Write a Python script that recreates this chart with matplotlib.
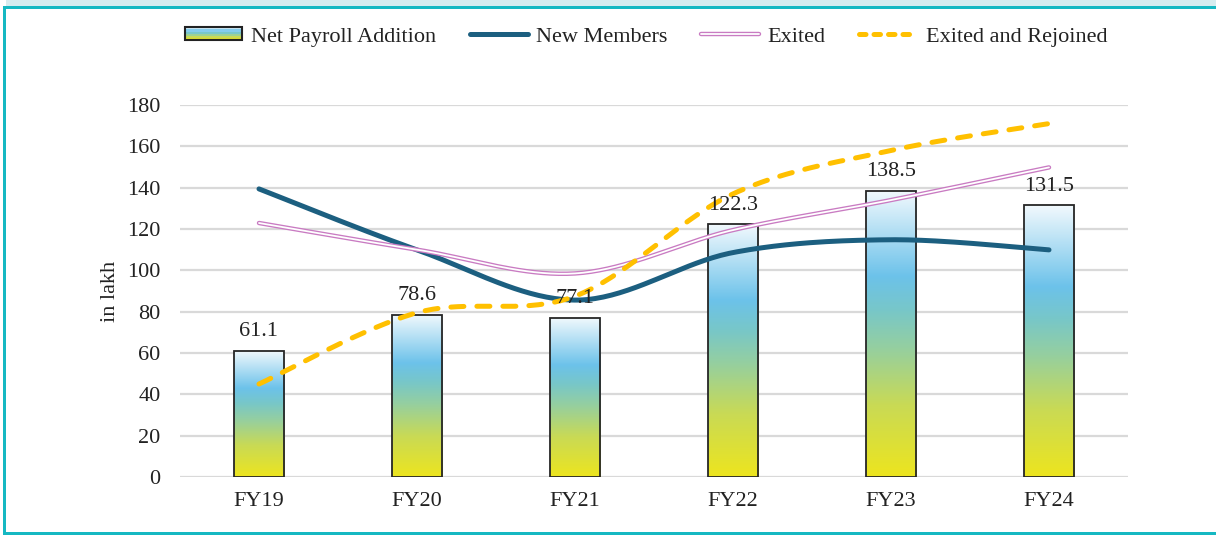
import numpy as np
import matplotlib
matplotlib.use("Agg")
import matplotlib.pyplot as plt
from matplotlib.patches import Rectangle
from matplotlib.lines import Line2D
from matplotlib.colors import LinearSegmentedColormap
from matplotlib.legend_handler import HandlerBase

plt.rcParams['font.family'] = ['Liberation Serif', 'DejaVu Serif']

categories = ["FY19", "FY20", "FY21", "FY22", "FY23", "FY24"]
net_payroll = [61.1, 78.6, 77.1, 122.3, 138.5, 131.5]
new_members = [139.4, 109.9, 85.6, 108.6, 114.8, 109.9]
exited = [122.9, 110.0, 98.5, 119.5, 134.0, 149.8]
exited_rejoined = [45.0, 79.5, 87.5, 137.0, 158.0, 171.0]
y_ticks = [0, 20, 40, 60, 80, 100, 120, 140, 160, 180]

grad_cmap = LinearSegmentedColormap.from_list(
    "bar", [(0.0, "#EDE51E"), (0.25, "#C9DA55"), (0.45, "#95CFA0"),
            (0.58, "#78C7C8"), (0.70, "#6CC2EA"), (1.0, "#F2F9FD")])


def smooth(xs, ys, n=40):
    """Excel-style smoothed line (Catmull-Rom as cubic Bezier)."""
    P = np.column_stack([xs, ys]).astype(float)
    out = [P[0]]
    for i in range(len(P) - 1):
        p0 = P[i - 1] if i > 0 else P[i]
        p1 = P[i]
        p2 = P[i + 1]
        p3 = P[i + 2] if i + 2 < len(P) else P[i + 1]
        c1 = p1 + (p2 - p0) / 6.0
        c2 = p2 - (p3 - p1) / 6.0
        t = np.linspace(0, 1, n)[1:, None]
        seg = ((1 - t) ** 3) * p1 + 3 * ((1 - t) ** 2) * t * c1 + 3 * (1 - t) * t ** 2 * c2 + t ** 3 * p2
        out.extend(seg)
    out = np.array(out)
    return out[:, 0], out[:, 1]


fig = plt.figure(figsize=(12.16, 5.35), dpi=100)
fig.patch.set_facecolor("white")

# frame decoration
fig.add_artist(Rectangle((6 / 1216, 1 - 6 / 535), 1, 6 / 535, transform=fig.transFigure,
                         facecolor="#D6ECEF", edgecolor="none"))
fig.add_artist(Rectangle((3 / 1216, 1 - 8.5 / 535), 1, 2.5 / 535, transform=fig.transFigure,
                         facecolor="#16B8C2", edgecolor="none"))
fig.add_artist(Rectangle((3 / 1216, 0), 2.5 / 1216, 1 - 6 / 535, transform=fig.transFigure,
                         facecolor="#16B8C2", edgecolor="none"))
fig.add_artist(Rectangle((3 / 1216, 0), 1, 3 / 535, transform=fig.transFigure,
                         facecolor="#16B8C2", edgecolor="none"))

ax = fig.add_axes([180 / 1216, 1 - 477 / 535, 948 / 1216, 372 / 535])
x = np.arange(len(categories))
bw = 0.32
FS = 16

grad = np.linspace(0, 1, 256)[:, None]
for xi, v in zip(x, net_payroll):
    rect = Rectangle((xi - bw / 2, 0), bw, v, facecolor="none", edgecolor="#262626",
                     linewidth=1.3, zorder=3)
    ax.add_patch(rect)
    im = ax.imshow(grad, cmap=grad_cmap, origin="lower", aspect="auto",
                   extent=[xi - bw / 2, xi + bw / 2, 0, v], zorder=2)
    im.set_clip_path(rect)
    ax.text(xi, v + 4.5, f"{v}", ha="center", va="bottom", fontsize=FS, color="#222222", zorder=6)

sx, sy = smooth(x, new_members)
ax.plot(sx, sy, color="#1C5F80", linewidth=3.6, solid_capstyle="round", zorder=5)
sx, sy = smooth(x, exited)
ax.plot(sx, sy, color="#C97BC2", linewidth=3.2, solid_capstyle="round", zorder=5)
ax.plot(sx, sy, color="white", linewidth=1.3, solid_capstyle="round", zorder=5)
sx, sy = smooth(x, exited_rejoined)
ax.plot(sx, sy, color="#FFC000", linewidth=3.6, linestyle=(0, (2.6, 2.6)),
        dash_capstyle="round", zorder=5)

ax.set_xlim(-0.5, len(categories) - 0.5)
ax.set_ylim(0, 180)
ax.set_yticks(y_ticks)
ax.set_xticks(x)
ax.set_xticklabels(categories)
ax.tick_params(axis="both", length=0, labelsize=FS, colors="#222222")
ax.tick_params(axis="y", pad=14)
ax.tick_params(axis="x", pad=11)
for s in ax.spines.values():
    s.set_visible(False)
ax.yaxis.grid(True, color="#D9D9D9", linewidth=1.6)
ax.set_axisbelow(True)
ax.set_ylabel("in lakh", fontsize=FS, color="#222222", labelpad=5)


class GradHandler(HandlerBase):
    def create_artists(self, legend, orig_handle, xdescent, ydescent, width, height, fontsize, trans):
        arts = []
        n = 6
        for i in range(n):
            c = grad_cmap((i + 0.5) / n)
            r = Rectangle((-xdescent, -ydescent + height * i / n), width, height / n,
                          facecolor=c, edgecolor="none", transform=trans)
            arts.append(r)
        arts.append(Rectangle((-xdescent, -ydescent), width, height, facecolor="none",
                              edgecolor="#222222", linewidth=1.5, transform=trans))
        return arts


bar_handle = Rectangle((0, 0), 1, 1)
h_new = Line2D([], [], color="#1C5F80", linewidth=3.6, solid_capstyle="round")
h_ex1 = Line2D([], [], color="#C97BC2", linewidth=3.2, solid_capstyle="round")
h_ex2 = Line2D([], [], color="white", linewidth=1.3, solid_capstyle="round")
h_rej = Line2D([], [], color="#FFC000", linewidth=3.6, linestyle=(0, (1.3, 1.6)),
               dash_capstyle="round")

leg = fig.legend([bar_handle, h_new, (h_ex1, h_ex2), h_rej],
                 ["Net Payroll Addition", "New Members", "Exited", "Exited and Rejoined"],
                 loc="center", bbox_to_anchor=(646 / 1216, 1 - 37 / 535), ncol=4, frameon=False,
                 fontsize=FS, handlelength=2.6, handleheight=0.5, columnspacing=1.5, handletextpad=0.4,
                 handler_map={Rectangle: GradHandler()})
for t in leg.get_texts():
    t.set_color("#222222")

fig.savefig("out.png", dpi=100)
